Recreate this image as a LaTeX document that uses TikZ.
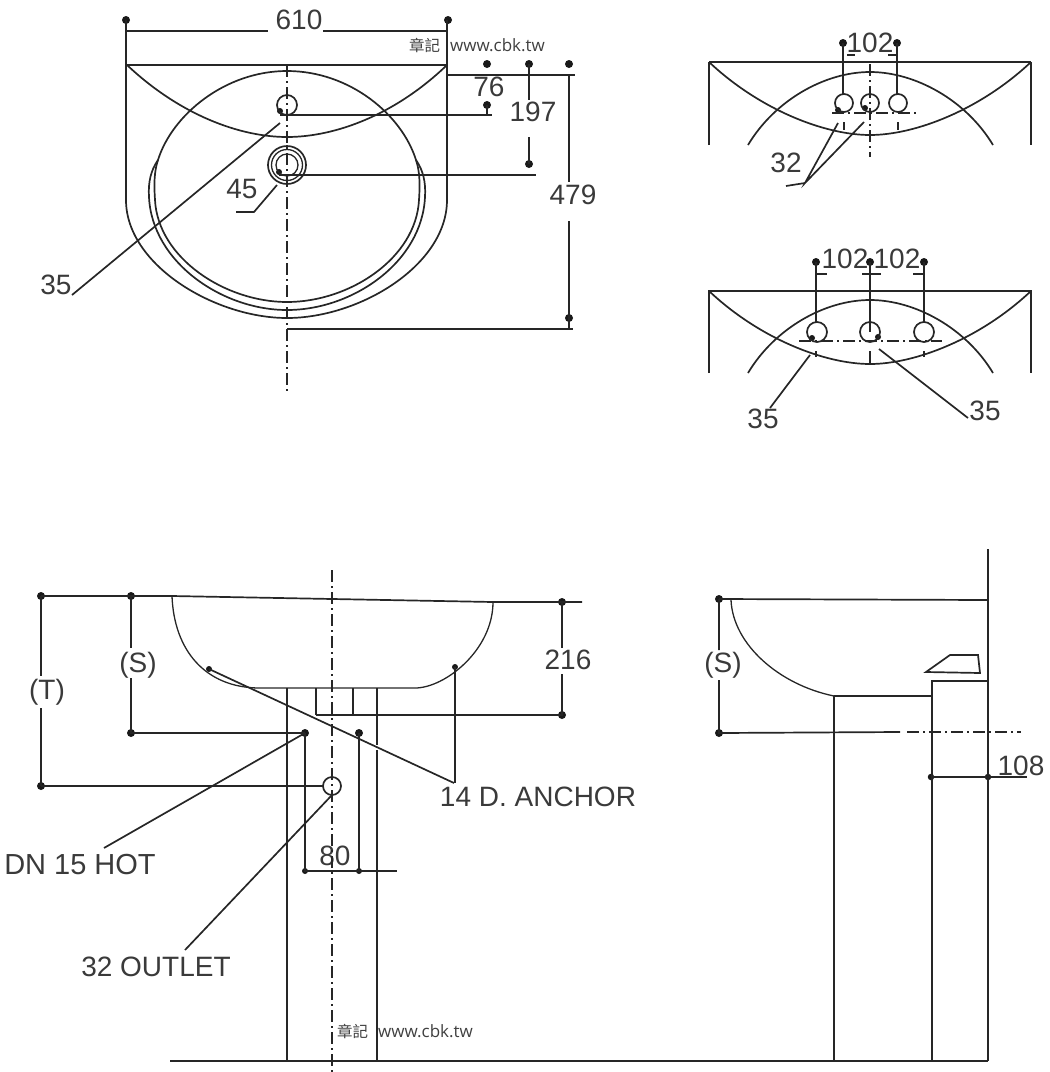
\documentclass[tikz,border=0pt]{standalone}
\usepackage{fontspec}
\setmainfont{Liberation Sans}
\newfontfamily\cjkmark{Noto Sans CJK TC}
\newfontfamily\wmlatin{Open Sans}
\definecolor{ink}{HTML}{262626}
\definecolor{lab}{HTML}{3A3A3A}
\tikzset{
  ln/.style={draw=ink,line width=1.7pt},
  thick ln/.style={draw=ink,line width=2.2pt},
  thin ln/.style={draw=ink,line width=1.3pt},
  ctr/.style={draw=ink,line width=1.7pt,dash pattern=on 12pt off 4pt on 2pt off 4pt},
  dimdot/.style={circle,fill=black!90,inner sep=0pt,minimum size=8pt},
  lbl/.style={text=lab,inner sep=0pt,font=\fontsize{28}{28}\selectfont},
  lblb/.style={text=lab,inner sep=0pt,font=\fontsize{29}{29}\selectfont},
  wm/.style={text=black!75,inner sep=0pt,font=\fontsize{15.5}{16}\selectfont}
}
\newcommand{\wmtext}{{\cjkmark 章記}\hspace{10pt}{\fontsize{17}{17}\selectfont\wmlatin www.cbk.tw}}
\begin{document}
\begin{tikzpicture}[x=1pt,y=-1pt]
\useasboundingbox (0,0) rectangle (1050,1072);
% ---------- top-left plan
\node[dimdot] (a1) at (126,20) {};
\node[dimdot] (a2) at (448,20) {};
\node[dimdot] (a3) at (487,64) {};
\node[dimdot] (a4) at (529,64) {};
\node[dimdot] (a5) at (569,64) {};
\node[dimdot] (a6) at (487,105) {};
\node[dimdot] (a7) at (529,164) {};
\node[dimdot] (a8) at (569,318) {};
\node[dimdot,minimum size=6pt] (a9) at (280,111) {};
\node[dimdot,minimum size=6pt] (a10) at (279,172) {};
\node[lbl] (t610) at (299,20) {610};
\node[lbl] (t76) at (489,87) {76};
\node[lbl] (t197) at (533,112) {197};
\node[lbl] (t479) at (573,195) {479};
\node[lbl] (t45) at (242,189) {45};
\node[lbl] (t35a) at (56,285) {35};
\draw[ln] (a1.center) -- (126,200) .. controls (126,265) and (215,318) .. (287,318) .. controls (360,318) and (447,265) .. (447,200) -- (447,20);
\draw[ln] (126,31) -- (268,31) (323,31) -- (448,31);
\draw[thick ln] (126,65) -- (447,65);
\draw[ln] (127,65) .. controls (180,115) and (240,137) .. (287,137) .. controls (335,137) and (395,115) .. (447,65);
\draw[ln] (158,160) .. controls (172,115) and (225,71) .. (287,71) .. controls (350,71) and (402,115) .. (416,160);
\draw[ln] (158,160) .. controls (154,172) and (154,185) .. (155,200) .. controls (158,258) and (225,302) .. (287,302) .. controls (350,302) and (416,258) .. (419,200) .. controls (420,185) and (420,172) .. (416,160);
\draw[ln] (158,160) .. controls (151,170) and (148,182) .. (149,197) .. controls (152,262) and (222,310) .. (287,310) .. controls (353,310) and (422,262) .. (425,197) .. controls (426,182) and (423,170) .. (416,160);
\draw[ln] (447,75) -- (575,75);
\draw[ln] (a6.center) -- (487,115);
\draw[ln] (a9.center) ++(0,4) -- (492,115);
\draw[ln] (a10.center) ++(0,3) -- (536,175);
\draw[ln] (a4.center) -- (529,100) (529,137) -- (a7.center);
\draw[ln] (a5.center) ++(0,11) -- (569,182) (569,221) -- (a8.center) -- (569,329);
\draw[ln] (287,329) -- (573,329);
\draw[ctr] (287,65) -- (287,392);
\draw[ln] (287,105) circle (10);
\draw[ln] (287,165) circle (19);
\draw[thin ln] (287,165) circle (15.5);
\draw[thin ln] (287,165) circle (11);
\draw[ln] (277,185) -- (254,212) -- (236,212);
\draw[ln] (280,123) -- (72,295);
% ---------- top-right views
\node[dimdot] (b1) at (843,43) {};
\node[dimdot] (b2) at (897,43) {};
\node[dimdot,minimum size=6pt] (b3) at (838,110) {};
\node[dimdot,minimum size=6pt] (b4) at (865,108) {};
\node[lbl] (t102a) at (870,43) {102};
\node[lbl] (t32) at (786,163) {32};
\draw[ln] (709,145) -- (709,62) (1031,62) -- (1031,145);
\draw[thick ln] (709,62) -- (1031,62);
\draw[ln] (709,62) .. controls (760,110) and (825,135) .. (870,135) .. controls (915,135) and (980,110) .. (1031,62);
\draw[ln] (748,145) .. controls (775,100) and (825,72) .. (870,72) .. controls (915,72) and (966,100) .. (993,145);
\draw[ln] (844,103) circle (9) (870,103) circle (9) (898,103) circle (9);
\draw[ln] (b1.center) -- (843,94) (b2.center) -- (897,94);
\draw[thin ln] (847,55) -- (855,55) (888,55) -- (897,55);
\draw[ctr] (832,113) -- (917,113);
\draw[ctr] (870,64) -- (870,157);
\draw[ln] (844,122) -- (844,130) (898,122) -- (898,130);
\draw[ln] (838,123) -- (805,183) -- (864,122);
\draw[ln] (805,183) -- (786,186);
%
\node[dimdot] (c1) at (816,262) {};
\node[dimdot] (c2) at (870,262) {};
\node[dimdot] (c3) at (924,262) {};
\node[dimdot,minimum size=6pt] (c4) at (812,338) {};
\node[dimdot,minimum size=6pt] (c5) at (878,337) {};
\node[lbl] (t102b) at (845,259) {102};
\node[lbl] (t102c) at (897,259) {102};
\node[lbl] (t35b) at (763,419) {35};
\node[lbl] (t35c) at (985,411) {35};
\draw[ln] (709,373) -- (709,291) -- (1031,291) -- (1031,373);
\draw[ln] (709,291) .. controls (760,339) and (825,364) .. (870,364) .. controls (915,364) and (980,339) .. (1031,291);
\draw[ln] (748,373) .. controls (775,328) and (825,300) .. (870,300) .. controls (915,300) and (966,328) .. (993,373);
\draw[ln] (817,332) circle (10) (870,332) circle (10) (924,332) circle (10);
\draw[ln] (c1.center) -- (816,322) (c2.center) -- (870,332) (c3.center) -- (924,322);
\draw[thin ln] (817,274) -- (827,274) (862,274) -- (881,274) (913,274) -- (923,274);
\draw[ctr] (799,341) -- (942,341);
\draw[ln] (816,351) -- (816,357) (870,351) -- (870,364) (924,351) -- (924,357);
\draw[ln] (810,355) -- (770,408);
\draw[ln] (879,349) -- (968,418);
% ---------- bottom-left elevation
\node[dimdot] (d1) at (41,596) {};
\node[dimdot] (d2) at (131,596) {};
\node[dimdot] (d3) at (562,602) {};
\node[dimdot] (d4) at (41,786) {};
\node[dimdot] (d5) at (131,733) {};
\node[dimdot] (d6) at (305,733) {};
\node[dimdot] (d7) at (359,733) {};
\node[dimdot] (d8) at (562,715) {};
\node[dimdot,minimum size=6pt] (d9) at (305,871) {};
\node[dimdot,minimum size=6pt] (d10) at (359,871) {};
\node[dimdot,minimum size=6pt] (d11) at (209,669) {};
\node[dimdot,minimum size=6pt] (d12) at (455,667) {};
\node[lbl] (tT) at (47,692) {(T)};
\node[lbl] (tS) at (138,665) {(S)};
\node[lbl] (t216) at (568,660) {216};
\node[lbl] (t80) at (335,856) {80};
\node[lbl] (tanc) at (538,797) {14 D. ANCHOR};
\node[lblb] (thot) at (80,865) {DN 15 HOT};
\node[lbl] (tout) at (156,967) {32 OUTLET};
\draw[ln] (d1.center) -- (172,596) -- (493,602) -- (582,602);
\draw[ln] (d1.center) -- (41,676) (41,708) -- (d4.center);
\draw[ln] (d2.center) -- (131,648) (131,678) -- (d5.center) -- (d6.center);
\draw[ln] (d4.center) -- (323,786);
\draw[ln] (d3.center) -- (562,648) (562,674) -- (d8.center) -- (316,715);
\draw[thin ln] (172,596) .. controls (174,650) and (205,688) .. (260,688) -- (415,688) .. controls (445,688) and (493,650) .. (493,602);
\draw[ln] (287,688) -- (287,1061);
\draw[ln] (377,688) -- (377,745) (377,750) -- (377,1061);
\draw[thin ln] (316,688) -- (316,715) (353,688) -- (353,715);
\draw[ctr] (332,570) -- (332,1072);
\draw[ln] (332,786) circle (9);
\draw[ln] (d6.center) -- (d9.center) -- (d10.center) -- (397,871);
\draw[ln] (d7.center) -- (d10.center);
\draw[thin ln] (d12.center) -- (455,783);
\draw[ln] (d11.center) -- (454,783);
\draw[ln] (d6.center) -- (104,848);
\draw[ln] (332,795) -- (185,950);
\draw[ln] (170,1061) -- (988,1061);
% ---------- bottom-right side view
\node[dimdot] (e1) at (719,599) {};
\node[dimdot] (e2) at (719,733) {};
\node[dimdot,minimum size=6.5pt] (e3) at (931,777) {};
\node[dimdot,minimum size=6.5pt] (e4) at (988,777) {};
\node[lbl] (tS2) at (723,665) {(S)};
\node[lbl] (t108) at (1021,766) {108};
\draw[ln] (988,549) -- (988,1061);
\draw[ln] (e1.center) -- (988,600);
\draw[ln] (e1.center) -- (719,650) (719,680) -- (e2.center) -- (900,732);
\draw[ctr] (907,732) -- (1021,732);
\draw[thin ln] (731,600) .. controls (733,645) and (780,685) .. (834,696);
\draw[ln] (834,696) -- (834,1061);
\draw[ln] (834,696) -- (932,696);
\draw[ln] (932,1061) -- (932,681) -- (988,681);
\draw[ln] (926,672) -- (950,655) -- (978,655) -- (980,673) -- cycle;
\draw[ln] (e3.center) -- (e4.center) -- (1027,777);
% ---------- watermarks
\node[wm,anchor=west] (w1) at (409,45) {\wmtext};
\node[wm,anchor=west] (w2) at (337,1031) {\wmtext};
\end{tikzpicture}
\end{document}
